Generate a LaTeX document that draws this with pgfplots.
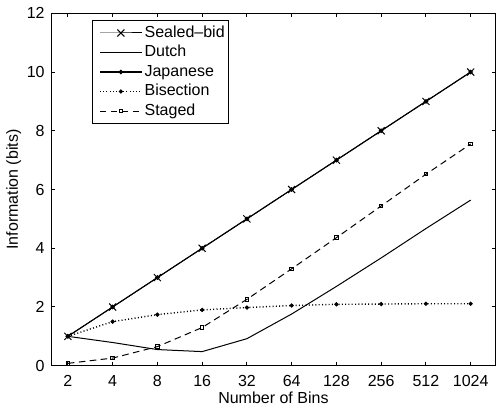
\documentclass[border=0pt]{standalone}
\usepackage{fontspec}
\setmainfont{Liberation Sans}
\usepackage{pgfplots}
\pgfplotsset{compat=1.18}

\begin{document}
\begin{tikzpicture}
\begin{axis}[
  name=ax,
  scale only axis,
  width=222.1pt, height=176.2pt,
  xmode=log, log basis x=2,
  xmin=1.547, xmax=1504,
  ymin=0, ymax=12,
  xtick={2,4,8,16,32,64,128,256,512,1024},
  xticklabels={2,4,8,16,32,64,128,256,512,1024},
  ytick={0,2,...,12},
  minor tick num=0,
  tick align=inside,
  tick pos=both,
  major tick length=2pt,
  axis line style={line width=0.5pt},
  tick style={line width=0.5pt, black},
  font=\fontsize{8}{9.6}\selectfont,
  /pgf/number format/assume math mode=true,
  xticklabel style={anchor=base, inner sep=0pt, yshift=-10.35pt},
  yticklabel style={anchor=east, inner sep=0pt, xshift=-3.15pt},
  xlabel={Number of Bins},
  ylabel={Information (bits)},
  x label style={at={(axis description cs:0.5,0)}, anchor=base, yshift=-18.65pt},
  y label style={at={([xshift=-16.65pt]axis description cs:0,0.5)}, anchor=base, rotate=0},
  legend cell align=left,
  legend style={
    at={(0.0923,0.981)}, anchor=north west,
    draw=black, line width=0.5pt,
    font=\fontsize{8}{9.6}\selectfont,
    inner xsep=1pt, inner ysep=1.5pt,
    row sep=0.25pt,
    nodes={inner sep=1pt, text height=6pt, text depth=1.5pt},
  },
  legend image code/.code={
    \path (-2.2pt,0pt);
    \draw[mark repeat=2, mark phase=2] plot coordinates {(0pt,0pt) (10.5pt,0pt) (21pt,0pt)};
  },
]
% Sealed-bid
\addplot[black, line width=0.5pt, mark=x, mark size=2.5pt] coordinates {
  (2,1) (4,2) (8,3) (16,4) (32,5) (64,6) (128,7) (256,8) (512,9) (1024,10)};
\addlegendentry{Sealed--bid}
% Dutch
\addplot[black, line width=0.5pt] coordinates {
  (2,1.00) (4,0.79) (8,0.55) (16,0.48) (32,0.92) (64,1.76) (128,2.70) (256,3.67) (512,4.67) (1024,5.64)};
\addlegendentry{Dutch}
% Japanese
\addplot[black, line width=0.5pt, mark=o, mark size=0.9pt] coordinates {
  (2,1) (4,2) (8,3) (16,4) (32,5) (64,6) (128,7) (256,8) (512,9) (1024,10)};
\addlegendentry{Japanese}
% Bisection
\addplot[black, line width=0.7pt, dash pattern=on 0.5pt off 1.15pt, mark=*, mark size=0.8pt, mark options={solid, line width=0.5pt}] coordinates {
  (2,1.00) (4,1.50) (8,1.74) (16,1.90) (32,1.98) (64,2.05) (128,2.09) (256,2.10) (512,2.11) (1024,2.11)};
\addlegendentry{Bisection}
% Staged
\addplot[black, line width=0.5pt, dash pattern=on 3.3pt off 2.2pt, mark=square, mark size=0.85pt, mark options={solid}] coordinates {
  (2,0.08) (4,0.26) (8,0.65) (16,1.30) (32,2.26) (64,3.30) (128,4.36) (256,5.44) (512,6.52) (1024,7.55)};
\addlegendentry{Staged}
\end{axis}
\pgfresetboundingbox
\path ([shift={(-25.65pt,-21.15pt)}]ax.south west) rectangle ([shift={(0.25pt,6.65pt)}]ax.north east);
\end{tikzpicture}
\end{document}
